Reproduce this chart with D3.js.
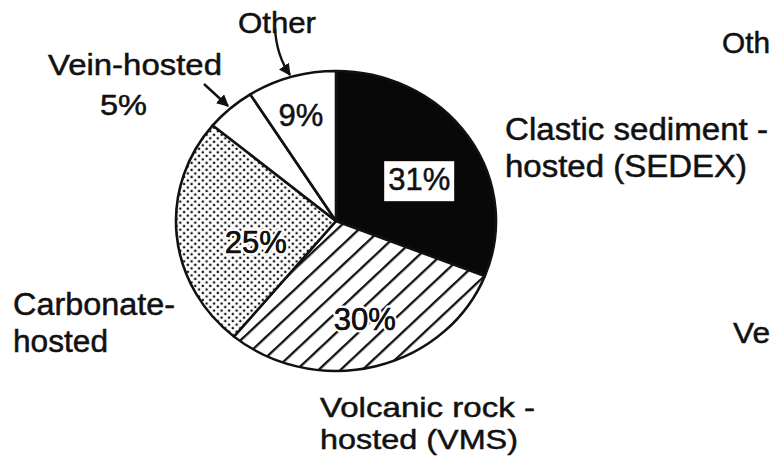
<!DOCTYPE html>
<html>
<head>
<meta charset="utf-8">
<script src="https://cdn.jsdelivr.net/npm/d3@7"></script>
<style>
  body { margin: 0; background: #fff; }
  svg { display: block; }
  text { font-family: "Liberation Sans", Arial, Helvetica, sans-serif; fill: #111; }
</style>
</head>
<body>
<div id="vis"></div>
<script>
const FRAME_WIDTH = 771;
const FRAME_HEIGHT = 463;
const CENTER = {x: 336, y: 221};
const RADIUS = 160;
const Y_SQUASH = 150 / 160;   // the scanned pie is a little wider than tall

// data, clockwise from 12 o'clock
const categories = ["Clastic sediment-hosted (SEDEX)", "Volcanic rock-hosted (VMS)", "Carbonate-hosted", "Vein-hosted", "Other"];
const values = [31, 30, 25, 5, 9];
const fills = ["url(#solid)", "url(#hatch)", "url(#dots)", "#fff", "#fff"];

// where the percent text sits inside each slice (fraction of radius, angle nudge in degrees)
const LABEL_R = [0.59, 0.68, 0.52, null, 0.74];
const LABEL_SHIFT = [6, -1, -10, 0, -1];

const FRAME = d3.select("#vis")
    .append("svg")
    .attr("width", FRAME_WIDTH)
    .attr("height", FRAME_HEIGHT);

const defs = FRAME.append("defs");

// black fill
defs.append("pattern")
    .attr("id", "solid")
    .attr("patternUnits", "userSpaceOnUse")
    .attr("width", 10).attr("height", 10)
    .append("rect")
    .attr("width", 10).attr("height", 10)
    .attr("fill", "#080808");

// diagonal hatch
const hatch = defs.append("pattern")
    .attr("id", "hatch")
    .attr("patternUnits", "userSpaceOnUse")
    .attr("width", 15.5).attr("height", 15.5)
    .attr("patternTransform", "rotate(-45)");
hatch.append("rect").attr("width", 15.5).attr("height", 15.5).attr("fill", "#fff");
hatch.append("line")
    .attr("x1", 0).attr("y1", 7).attr("x2", 15.5).attr("y2", 7)
    .attr("stroke", "#111").attr("stroke-width", 2.4);

// stipple
const dots = defs.append("pattern")
    .attr("id", "dots")
    .attr("patternUnits", "userSpaceOnUse")
    .attr("width", 7.5).attr("height", 7.5);
dots.append("rect").attr("width", 7.5).attr("height", 7.5).attr("fill", "#fff");
dots.append("circle").attr("cx", 1.8).attr("cy", 1.8).attr("r", 1.3).attr("fill", "#111");
dots.append("circle").attr("cx", 5.6).attr("cy", 5.6).attr("r", 1.3).attr("fill", "#111");

// arrow head
defs.append("marker")
    .attr("id", "arrow")
    .attr("viewBox", "0 0 10 10")
    .attr("refX", 9).attr("refY", 5)
    .attr("markerWidth", 5).attr("markerHeight", 5)
    .attr("markerUnits", "strokeWidth")
    .attr("orient", "auto")
    .append("path")
    .attr("d", "M0,0 L10,5 L0,10 z")
    .attr("fill", "#111");

const pie = d3.pie().sort(null).value((d) => d);
const arcs = pie(values);
const arc = d3.arc().innerRadius(0).outerRadius(RADIUS);

const PIE = FRAME.append("g")
    .attr("transform", "translate(" + CENTER.x + "," + CENTER.y + ") scale(1," + Y_SQUASH + ")");

PIE.selectAll("path.slice")
    .data(arcs)
    .enter()
    .append("path")
    .attr("class", "slice")
    .attr("d", arc)
    .attr("fill", (d, i) => fills[i])
    .attr("stroke", "#111")
    .attr("stroke-width", 2.6)
    .attr("stroke-linejoin", "round");

// percent labels inside the slices
arcs.forEach((d, i) => {
    if (LABEL_R[i] === null) return;
    const a = (d.startAngle + d.endAngle) / 2 + LABEL_SHIFT[i] * Math.PI / 180;
    const r = LABEL_R[i] * RADIUS;
    const x = CENTER.x + r * Math.sin(a);
    const y = CENTER.y - r * Math.cos(a) * Y_SQUASH;

    if (i === 0) {
        FRAME.append("rect")
            .attr("x", x - 35).attr("y", y - 18)
            .attr("width", 70).attr("height", 40)
            .attr("fill", "#fff");
    }
    const t = FRAME.append("text")
        .attr("x", x)
        .attr("y", y + 11)
        .attr("text-anchor", "middle")
        .attr("font-size", 31)
        .text(values[i] + "%");
    if (i === 1 || i === 2) {
        // white halo breaks the hatch / dots behind the number
        t.attr("stroke", "#fff").attr("stroke-width", 5)
            .attr("paint-order", "stroke").attr("stroke-linejoin", "round");
        FRAME.append("text")
            .attr("x", x).attr("y", y + 11)
            .attr("text-anchor", "middle")
            .attr("font-size", 31)
            .attr("stroke", "#111").attr("stroke-width", 0.5)
            .text(values[i] + "%");
    } else {
        t.attr("stroke", "#111").attr("stroke-width", 0.5);
    }
});

// outside labels (the two at the right edge are cut off in the scan as well)
const notes = [
    {t: "Other", x: 238, y: 33, w: 78, s: 30},
    {t: "Vein-hosted", x: 48, y: 75, w: 174, s: 30},
    {t: "5%", x: 100, y: 115, w: 47, s: 30},
    {t: "Clastic sediment -", x: 505, y: 140, w: 263, s: 31},
    {t: "hosted (SEDEX)", x: 505, y: 177, w: 242, s: 31},
    {t: "Carbonate-", x: 13, y: 315, w: 162, s: 31},
    {t: "hosted", x: 13, y: 352, w: 95, s: 31},
    {t: "Volcanic rock -", x: 320, y: 417, w: 215, s: 28},
    {t: "hosted (VMS)", x: 320, y: 449, w: 198, s: 28},
    {t: "Oth", x: 722, y: 53, w: 48, s: 30},
    {t: "Ve", x: 733, y: 343, w: 37, s: 30}
];

FRAME.selectAll("text.note")
    .data(notes)
    .enter()
    .append("text")
    .attr("class", "note")
    .attr("x", (d) => d.x)
    .attr("y", (d) => d.y)
    .attr("font-size", (d) => d.s)
    .attr("textLength", (d) => d.w)
    .attr("lengthAdjust", "spacingAndGlyphs")
    .attr("stroke", "#111")
    .attr("stroke-width", 0.5)
    .text((d) => d.t);

// arrows to the two small slices
FRAME.append("path")
    .attr("d", "M275,28 C276,48 281,62 290,75")
    .attr("fill", "none")
    .attr("stroke", "#111")
    .attr("stroke-width", 2.4)
    .attr("marker-end", "url(#arrow)");

FRAME.append("path")
    .attr("d", "M204,84 L228,106")
    .attr("fill", "none")
    .attr("stroke", "#111")
    .attr("stroke-width", 2.4)
    .attr("marker-end", "url(#arrow)");
</script>
</body>
</html>
